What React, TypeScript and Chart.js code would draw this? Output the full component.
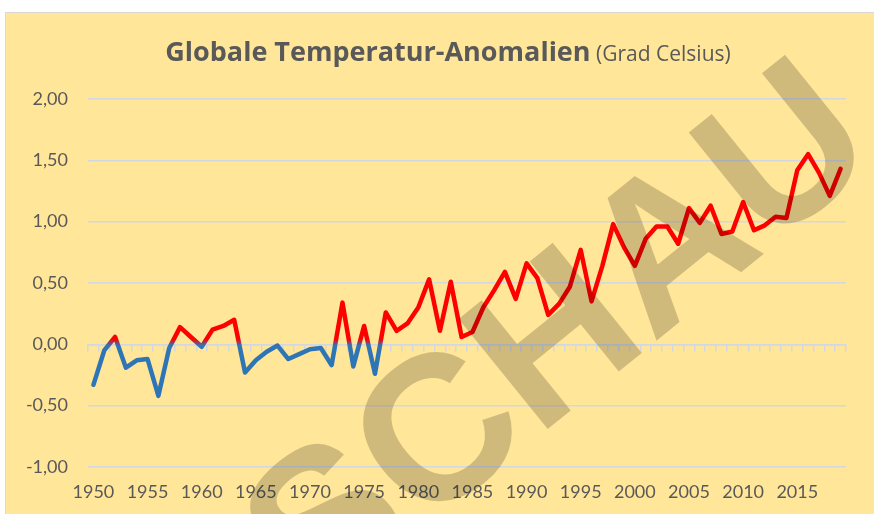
import React, { useEffect, useRef } from 'react';
import { Chart, registerables } from 'chart.js';

Chart.register(...registerables);

const years: string[] = [
  '1950', '1951', '1952', '1953', '1954', '1955', '1956', '1957', '1958', '1959',
  '1960', '1961', '1962', '1963', '1964', '1965', '1966', '1967', '1968', '1969',
  '1970', '1971', '1972', '1973', '1974', '1975', '1976', '1977', '1978', '1979',
  '1980', '1981', '1982', '1983', '1984', '1985', '1986', '1987', '1988', '1989',
  '1990', '1991', '1992', '1993', '1994', '1995', '1996', '1997', '1998', '1999',
  '2000', '2001', '2002', '2003', '2004', '2005', '2006', '2007', '2008', '2009',
  '2010', '2011', '2012', '2013', '2014', '2015', '2016', '2017', '2018', '2019',
];

const anomalies: number[] = [
  -0.33, -0.05, 0.06, -0.19, -0.13, -0.12, -0.42, -0.03, 0.14, 0.06,
  -0.02, 0.12, 0.15, 0.2, -0.23, -0.13, -0.06, -0.01, -0.12, -0.08,
  -0.04, -0.03, -0.17, 0.34, -0.18, 0.15, -0.24, 0.26, 0.11, 0.17,
  0.3, 0.53, 0.11, 0.51, 0.06, 0.1, 0.3, 0.44, 0.59, 0.37,
  0.66, 0.54, 0.24, 0.33, 0.47, 0.77, 0.35, 0.64, 0.98, 0.79,
  0.64, 0.86, 0.96, 0.96, 0.82, 1.11, 0.99, 1.13, 0.9, 0.92,
  1.16, 0.93, 0.97, 1.04, 1.03, 1.42, 1.55, 1.4, 1.21, 1.43,
];

const xTickLabels: string[] = [
  '1950', '1955', '1960', '1965', '1970', '1975', '1980',
  '1985', '1990', '1995', '2000', '2005', '2010', '2015',
];

const yTicks: number[] = [-1, -0.5, 0, 0.5, 1, 1.5, 2];

const titleMain = 'Globale Temperatur-Anomalien';
const titleSub = ' (Grad Celsius)';
const watermark = 'VORSCHAU';

const RED = '#FF0000';
const BLUE = '#2E75B6';
const GRID = '#D3D8E0';
const TEXT = '#595959';
const FONT = 'Lato, "Noto Sans", sans-serif';
const TITLE_FONT = '"Open Sans", Lato, sans-serif';

export default function App() {
  const ref = useRef<HTMLCanvasElement | null>(null);

  useEffect(() => {
    if (!ref.current) return;

    const decor = {
      id: 'decor',
      afterDraw(chart: any) {
        const c = chart.ctx as CanvasRenderingContext2D;
        // Title
        c.save();
        c.fillStyle = TEXT;
        c.textBaseline = 'alphabetic';
        c.textAlign = 'left';
        const mainFont = `bold 27px ${TITLE_FONT}`;
        const subFont = `21px ${TITLE_FONT}`;
        c.font = mainFont;
        const w1 = c.measureText(titleMain).width;
        c.font = subFont;
        const w2 = c.measureText(titleSub).width;
        const startX = 448 - (w1 + w2) / 2;
        c.font = mainFont;
        c.fillText(titleMain, startX, 61);
        c.font = subFont;
        c.fillText(titleSub, startX + w1, 61);
        c.restore();

        // Watermark
        c.save();
        const F = 206;
        c.font = `bold ${F}px "Liberation Sans", Arial, sans-serif`;
        c.fillStyle = 'rgba(0,0,0,0.19)';
        c.textBaseline = 'alphabetic';
        c.textAlign = 'left';
        const w0 = c.measureText(watermark.slice(0, 6)).width;
        const wA = c.measureText('A').width;
        c.translate(664, 240);
        c.rotate((-39 * Math.PI) / 180);
        c.fillText(watermark, -(w0 + wA / 2), 0.358 * F);
        c.restore();
      },
    };

    const chart = new Chart(ref.current, {
      type: 'line',
      data: {
        labels: years,
        datasets: [
          {
            data: anomalies,
            xAxisID: 'x',
            yAxisID: 'y',
            borderWidth: 4.5,
            pointRadius: 0,
            tension: 0,
            borderCapStyle: 'round',
            borderJoinStyle: 'round',
            borderColor: (ctx: any) => {
              const ch = ctx.chart;
              const area = ch.chartArea;
              if (!area) return RED;
              const y0 = ch.scales.y.getPixelForValue(0);
              const h = area.bottom - area.top;
              const f = (y0 - area.top) / h;
              const g = ch.ctx.createLinearGradient(0, area.top, 0, area.bottom);
              g.addColorStop(0, RED);
              g.addColorStop(Math.max(0, f - 5 / h), RED);
              g.addColorStop(Math.min(1, f + 1 / h), BLUE);
              g.addColorStop(1, BLUE);
              return g;
            },
          },
        ],
      },
      options: {
        animation: false,
        responsive: false,
        maintainAspectRatio: false,
        layout: { padding: { top: 99, right: 28, bottom: 7, left: 0 } },
        plugins: {
          legend: { display: false },
          title: { display: false },
          tooltip: { enabled: false },
        },
        scales: {
          x: {
            type: 'category',
            position: 'bottom',
            offset: true,
            grid: { display: false, drawTicks: false },
            border: { display: false },
            ticks: {
              autoSkip: false,
              maxRotation: 0,
              minRotation: 0,
              padding: 14,
              color: TEXT,
              font: { family: FONT, size: 18 },
              callback: (_v: any, i: number) =>
                xTickLabels.includes(years[i]) ? years[i] : '',
            },
            afterFit: (s: any) => {
              s.height = 40;
            },
          },
          x2: {
            type: 'category',
            position: { y: 0 },
            offset: true,
            grid: {
              offset: true,
              drawOnChartArea: false,
              drawTicks: true,
              tickLength: 6,
              color: GRID,
              lineWidth: 1.5,
            },
            border: { display: true, color: GRID, width: 1.5 },
            ticks: { display: false },
          },
          y: {
            type: 'linear',
            min: yTicks[0],
            max: yTicks[yTicks.length - 1],
            afterBuildTicks: (s: any) => {
              s.ticks = yTicks.map((v) => ({ value: v }));
            },
            grid: { color: GRID, lineWidth: 1.5, drawTicks: false },
            border: { display: false },
            ticks: {
              padding: 20,
              color: TEXT,
              font: { family: FONT, size: 18 },
              callback: (v: any) => Number(v).toFixed(2).replace('.', ','),
            },
            afterFit: (s: any) => {
              s.width = 88;
            },
          },
        },
      },
      plugins: [decor],
    } as any);

    return () => chart.destroy();
  }, []);

  return (
    <div style={{ position: 'absolute', left: 0, top: 0, width: 874, height: 514, background: '#fff', overflow: 'hidden' }}>
      <div
        style={{
          position: 'absolute',
          left: 5,
          top: 12,
          width: 900,
          height: 520,
          background: '#FFE699',
          border: '1px solid #D9D9D9',
          boxSizing: 'border-box',
        }}
      />
      <canvas ref={ref} width={874} height={514} style={{ position: 'absolute', left: 0, top: 0, width: 874, height: 514 }} />
    </div>
  );
}
